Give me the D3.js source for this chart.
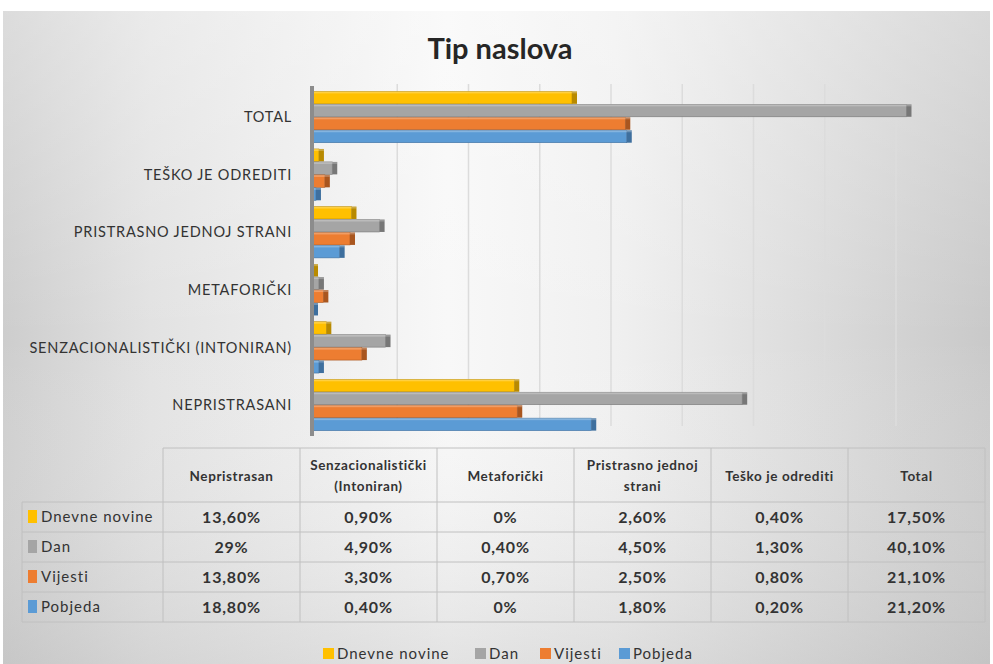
<!DOCTYPE html>
<html>
<head>
<meta charset="utf-8">
<script src="https://cdn.jsdelivr.net/npm/d3@7"></script>
<style>
  body { margin: 0; background: #fff; }
  svg { display: block; font-family: Lato, "Open Sans", sans-serif; }
</style>
</head>
<body>
<div id="chart"></div>
<script>
// categories in Excel order (first one is drawn at the bottom)
var categories = ["NEPRISTRASANI", "SENZACIONALISTIČKI (INTONIRAN)", "METAFORIČKI",
                  "PRISTRASNO JEDNOJ STRANI", "TEŠKO JE ODREDITI", "TOTAL"];
var tableHeaders = [["Nepristrasan"], ["Senzacionalistički", "(Intoniran)"], ["Metaforički"],
                    ["Pristrasno jednoj", "strani"], ["Teško je odrediti"], ["Total"]];
var seriesNames = ["Dnevne novine", "Dan", "Vijesti", "Pobjeda"];
var dnevneNovine = [13.6, 0.9, 0, 2.6, 0.4, 17.5];
var dan          = [29, 4.9, 0.4, 4.5, 1.3, 40.1];
var vijesti      = [13.8, 3.3, 0.7, 2.5, 0.8, 21.1];
var pobjeda      = [18.8, 0.4, 0, 1.8, 0.2, 21.2];
var gridTicks = [5, 10, 15, 20, 25, 30, 35, 40];

var colors = ["#FFC000", "#A5A5A5", "#ED7D31", "#5B9BD5"];
var dark   = ["#B88A00", "#777777", "#A9561F", "#3E6F9E"];
var seriesValues = [dnevneNovine, dan, vijesti, pobjeda];

var W = 993, H = 664;
var svg = d3.select("#chart").append("svg").attr("width", W).attr("height", H);

// background gradient (white in the middle, gray at the edges)
var defs = svg.append("defs");
var lg = defs.append("linearGradient").attr("id", "bg").attr("x1", 0).attr("x2", 1).attr("y1", 0).attr("y2", 0);
lg.append("stop").attr("offset", "0%").attr("stop-color", "#cdcdcd");
lg.append("stop").attr("offset", "15%").attr("stop-color", "#e2e2e2");
lg.append("stop").attr("offset", "45%").attr("stop-color", "#f8f8f8");
lg.append("stop").attr("offset", "62%").attr("stop-color", "#f0f0f0");
lg.append("stop").attr("offset", "100%").attr("stop-color", "#c9c9c9");
var vg = defs.append("linearGradient").attr("id", "bgv").attr("x1", 0).attr("x2", 0).attr("y1", 0).attr("y2", 1);
vg.append("stop").attr("offset", "0%").attr("stop-color", "#fff").attr("stop-opacity", 0.3);
vg.append("stop").attr("offset", "50%").attr("stop-color", "#fff").attr("stop-opacity", 0);
vg.append("stop").attr("offset", "100%").attr("stop-color", "#bbb").attr("stop-opacity", 0.35);

svg.append("rect").attr("x", 3).attr("y", 11).attr("width", 987).attr("height", 653).attr("fill", "url(#bg)");
svg.append("rect").attr("x", 3).attr("y", 11).attr("width", 987).attr("height", 653).attr("fill", "url(#bgv)");

// title
svg.append("text")
   .attr("x", 500).attr("y", 59)
   .attr("text-anchor", "middle")
   .attr("font-size", "29px").attr("font-weight", "bold")
   .attr("fill", "#262626")
   .text("Tip naslova");

/* scales */
var yScale = d3.scaleBand()
               .domain(categories.slice().reverse())
               .range([88.5, 434])
               .paddingInner(0.1).paddingOuter(0.05);
var ySub = d3.scaleBand().domain(seriesNames).range([0, yScale.bandwidth()]);
var xScale = d3.scaleLinear().domain([0, 40]).range([313, 905]);
// gridlines sit on the back wall of the 3D plot, so they are shifted
var gridScale = d3.scaleLinear().domain([0, 40]).range([326, 896]);

// gridlines
svg.append("g").selectAll("line")
   .data(gridTicks).enter().append("line")
   .attr("x1", d => gridScale(d)).attr("x2", d => gridScale(d))
   .attr("y1", 84).attr("y2", 426)
   .attr("stroke", "#dcdcdc").attr("stroke-width", 1.5);

// bars
var groups = svg.append("g").selectAll("g")
   .data(categories).enter().append("g")
   .attr("transform", d => "translate(0," + yScale(d) + ")");

groups.each(function(cat, ci) {
    var g = d3.select(this);
    seriesNames.forEach(function(s, si) {
        var v = seriesValues[si][ci];
        var y0 = ySub(s), h = ySub.bandwidth() - 0.5;
        g.append("rect")
         .attr("x", xScale(0)).attr("y", y0)
         .attr("width", Math.max(xScale(v) - xScale(0), 0)).attr("height", h)
         .attr("fill", colors[si])
         .attr("stroke", dark[si]).attr("stroke-width", 0.6);
        // 3D end cap
        g.append("rect")
         .attr("x", xScale(v)).attr("y", y0)
         .attr("width", 5).attr("height", h)
         .attr("fill", dark[si]);
        // lighter top edge
        g.append("rect")
         .attr("x", xScale(0)).attr("y", y0)
         .attr("width", Math.max(xScale(v) - xScale(0), 0) + 5).attr("height", 2)
         .attr("fill", "#fff").attr("opacity", 0.25);
    });
});

// category axis
svg.append("rect").attr("x", 310).attr("y", 86).attr("width", 4).attr("height", 350).attr("fill", "#8c8c8c");
svg.append("g").selectAll("text")
   .data(categories).enter().append("text")
   .attr("x", 292)
   .attr("y", d => yScale(d) + yScale.bandwidth() / 2 + 5)
   .attr("text-anchor", "end")
   .attr("font-size", "14.5px")
   .attr("letter-spacing", "0.8px")
   .attr("fill", "#333333")
   .text(d => d);

/* data table */
var fmt = function(v) {
    if (v === Math.round(v)) return v + "%";
    return v.toFixed(2).replace(".", ",") + "%";
};
var colScale = d3.scaleBand().domain(d3.range(categories.length)).range([163, 985]);
var tableTop = 448, headerBottom = 502, rowH = 30, tableLeft = 22;
var table = svg.append("g");
var lineCol = "#c0c0c0";

table.append("line").attr("x1", 163).attr("x2", 985).attr("y1", tableTop).attr("y2", tableTop).attr("stroke", lineCol);
for (var r = 0; r <= seriesNames.length; r++) {
    table.append("line")
         .attr("x1", tableLeft).attr("x2", 985)
         .attr("y1", headerBottom + r * rowH).attr("y2", headerBottom + r * rowH)
         .attr("stroke", lineCol);
}
table.append("line").attr("x1", tableLeft).attr("x2", tableLeft)
     .attr("y1", headerBottom).attr("y2", headerBottom + 4 * rowH).attr("stroke", lineCol);
d3.range(categories.length + 1).forEach(function(i) {
    var x = i < categories.length ? colScale(i) : 985;
    table.append("line").attr("x1", x).attr("x2", x)
         .attr("y1", tableTop).attr("y2", headerBottom + 4 * rowH).attr("stroke", lineCol);
});

// header
tableHeaders.forEach(function(lines, i) {
    var cx = colScale(i) + colScale.bandwidth() / 2;
    var t = table.append("text")
                 .attr("x", cx)
                 .attr("y", lines.length === 1 ? 481 : 470)
                 .attr("text-anchor", "middle")
                 .attr("font-size", "13.5px").attr("font-weight", "bold")
                 .attr("letter-spacing", "0.6px")
                 .attr("fill", "#333333");
    lines.forEach(function(l, li) {
        t.append("tspan").attr("x", cx).attr("dy", li === 0 ? 0 : 21).text(l);
    });
});

// rows
seriesNames.forEach(function(s, si) {
    var cy = headerBottom + si * rowH + rowH / 2;
    table.append("rect").attr("x", 28).attr("y", cy - 7).attr("width", 9).attr("height", 13)
         .attr("fill", colors[si]);
    table.append("text").attr("x", 41).attr("y", cy + 5)
         .attr("font-size", "15px").attr("letter-spacing", "1px")
         .attr("fill", "#333333").text(s);
    seriesValues[si].forEach(function(v, ci) {
        table.append("text")
             .attr("x", colScale(ci) + colScale.bandwidth() / 2)
             .attr("y", cy + 5.5)
             .attr("text-anchor", "middle")
             .attr("font-size", "16px").attr("font-weight", "bold")
             .attr("letter-spacing", "0.8px")
             .attr("fill", "#333333")
             .text(fmt(v));
    });
});

// legend
var legendX = [323, 475, 540, 619];
var legend = svg.append("g");
seriesNames.forEach(function(s, si) {
    legend.append("rect").attr("x", legendX[si]).attr("y", 648).attr("width", 11).attr("height", 11)
          .attr("fill", colors[si]);
    legend.append("text").attr("x", legendX[si] + 14).attr("y", 659)
          .attr("font-size", "15px").attr("letter-spacing", "1px")
          .attr("fill", "#333333").text(s);
});
</script>
</body>
</html>
